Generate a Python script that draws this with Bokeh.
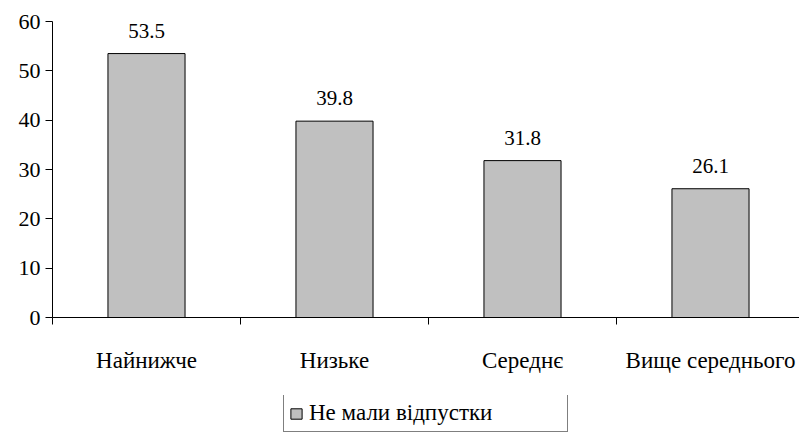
from bokeh.plotting import figure
from bokeh.models import (Range1d, LinearAxis, FixedTicker, Legend, LegendItem,
                          ColumnDataSource, LabelSet)
from bokeh.layouts import column
from bokeh.core.properties import value
from bokeh.embed import file_html
from bokeh.resources import INLINE

categories = ["Найнижче", "Низьке", "Середнє", "Вище середнього"]
values = [53.5, 39.8, 31.8, 26.1]
value_labels = ["53.5", "39.8", "31.8", "26.1"]
series_name = "Не мали відпустки"
y_ticks = [0, 10, 20, 30, 40, 50, 60]

FONT = "Liberation Serif"
BAR_FILL = "#C0C0C0"

xs = [i + 1 for i in range(len(categories))]
boundaries = [i + 0.5 for i in range(len(categories) + 1)]

src = ColumnDataSource(dict(x=xs, top=values, lab=value_labels))

p = figure(frame_width=747, frame_height=296, x_range=Range1d(0.5, 0.5 + 747 / 188),
           y_range=Range1d(0, 60), output_backend="svg", toolbar_location=None,
           x_axis_location=None, y_axis_location=None,
           min_border_left=52, min_border_top=21, min_border_right=0,
           min_border_bottom=78)
p.outline_line_color = None
p.xgrid.visible = False
p.ygrid.visible = False

p.vbar(x="x", top="top", width=0.41, source=src, fill_color=BAR_FILL,
       line_color="#000000", line_width=1)

p.add_layout(LabelSet(x="x", y="top", text="lab", source=src, y_offset=16,
                      text_align="center", text_baseline="alphabetic",
                      text_font=value(FONT), text_font_size=value("21px"),
                      text_color="black"))

yax = LinearAxis(ticker=FixedTicker(ticks=y_ticks), major_tick_out=7,
                 major_tick_in=0, minor_tick_out=0, minor_tick_in=0,
                 major_label_standoff=5, major_label_text_font=FONT,
                 major_label_text_font_size="22px", major_label_text_color="black",
                 axis_line_color="black", major_tick_line_color="black")
p.add_layout(yax, "left")

xax = LinearAxis(ticker=FixedTicker(ticks=xs, minor_ticks=boundaries),
                 major_tick_out=0, major_tick_in=0, major_tick_line_color=None,
                 minor_tick_out=7, minor_tick_in=0, minor_tick_line_color="black",
                 axis_line_color="black", major_label_standoff=23,
                 major_label_text_font=FONT, major_label_text_font_size="23px",
                 major_label_text_color="black",
                 major_label_overrides={x: c for x, c in zip(xs, categories)})
p.add_layout(xax, "below")

# legend strip below the chart (its bars lie outside its own ranges)
p2 = figure(frame_width=799, frame_height=37, x_range=Range1d(-10, -9),
            y_range=Range1d(-10, -9), output_backend="svg", toolbar_location=None,
            x_axis_location=None, y_axis_location=None,
            min_border_left=0, min_border_top=0, min_border_right=0,
            min_border_bottom=0)
p2.outline_line_color = None
p2.xgrid.visible = False
p2.ygrid.visible = False
r2 = p2.vbar(x="x", top="top", width=0.41, source=src, fill_color=BAR_FILL,
             line_color="#000000", line_width=1)

legend = Legend(items=[LegendItem(label=series_name, renderers=[r2])],
                location=(283, 0), orientation="horizontal",
                border_line_color="black", border_line_width=1,
                label_text_font=FONT, label_text_font_size="23px",
                label_text_color="black", glyph_width=14, glyph_height=13,
                padding=5, spacing=0, margin=0, label_standoff=6, label_width=253)
p2.add_layout(legend, "center")

layout = column(p, p2, spacing=0)
open("out.html", "w").write(file_html(layout, INLINE))
